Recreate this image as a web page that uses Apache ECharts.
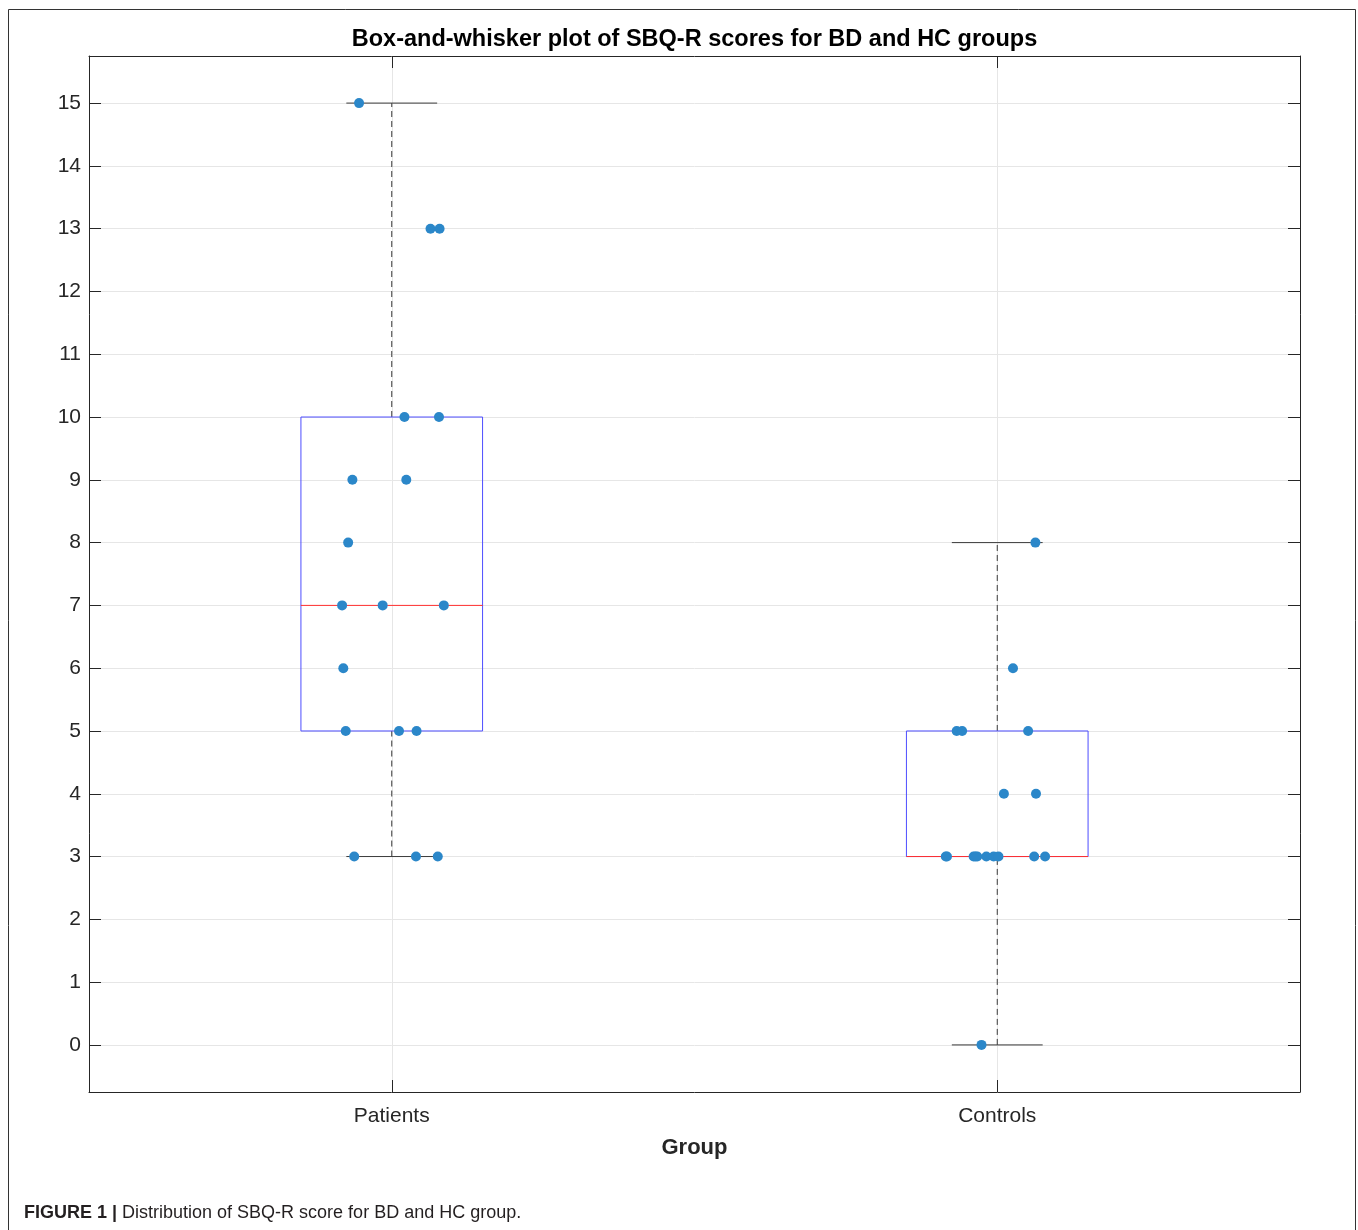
<!DOCTYPE html>
<html>
<head>
<meta charset="utf-8">
<script src="https://cdn.jsdelivr.net/npm/echarts@6/dist/echarts.min.js"></script>
<style>
html,body{margin:0;padding:0;background:#fff;}
#chart{width:1358px;height:1230px;}
</style>
</head>
<body>
<div id="chart"></div>
<script>
// ---- data ----
const categories = ['Patients', 'Controls'];
const categoryPositions = [1, 2];
const yTickValues = [0, 1, 2, 3, 4, 5, 6, 7, 8, 9, 10, 11, 12, 13, 14, 15];
// box stats: [min whisker, Q1, median, Q3, max whisker]
const patientsBox = [3, 5, 7, 10, 15];
const controlsBox = [0, 3, 3, 5, 8];
// individual scores and their horizontal jitter (category units)
const patientsScores = [15, 13, 13, 10, 10, 9, 9, 8, 7, 7, 7, 6, 5, 5, 5, 3, 3, 3];
const patientsJitter = [-0.054, 0.064, 0.079, 0.021, 0.078, -0.065, 0.024, -0.072, -0.082, -0.015, 0.086, -0.080, -0.076, 0.012, 0.041, -0.062, 0.040, 0.076];
const controlsScores = [8, 6, 5, 5, 5, 4, 4, 3, 3, 3, 3, 3, 3, 3, 3, 3, 3, 0];
const controlsJitter = [0.063, 0.026, -0.067, -0.058, 0.051, 0.011, 0.064, -0.085, -0.083, -0.039, -0.036, -0.033, -0.018, -0.006, 0.002, 0.061, 0.079, -0.026];

// ---- build ----
const boxData = [
  [categoryPositions[0]].concat(patientsBox),
  [categoryPositions[1]].concat(controlsBox)
];
const pointData = [];
patientsScores.forEach((v, i) => pointData.push([categoryPositions[0] + patientsJitter[i], v]));
controlsScores.forEach((v, i) => pointData.push([categoryPositions[1] + controlsJitter[i], v]));

const BOX_W = 0.3, CAP_W = 0.15;
const axisColor = '#262626';
const gridColor = '#e6e6e6';
const FONT = '"Liberation Sans", Arial, Helvetica, sans-serif';

const chart = echarts.init(document.getElementById('chart'), null, {renderer: 'canvas'});

function renderBox(params, api) {
  const x = api.value(0);
  const lo = api.value(1), q1 = api.value(2), med = api.value(3), q3 = api.value(4), hi = api.value(5);
  const hb = api.size([BOX_W, 0])[0] / 2;
  const hc = api.size([CAP_W, 0])[0] / 2;
  const p = v => api.coord([x, v]);
  const pLo = p(lo), pQ1 = p(q1), pMed = p(med), pQ3 = p(q3), pHi = p(hi);
  const cx = pLo[0];
  const dashStyle = {stroke: '#3a3a3a', lineWidth: 1, lineDash: [6, 4]};
  const capStyle = {stroke: '#3a3a3a', lineWidth: 1};
  return {
    type: 'group',
    children: [
      {type: 'line', shape: {x1: cx, y1: pQ3[1], x2: cx, y2: pHi[1]}, style: dashStyle},
      {type: 'line', shape: {x1: cx, y1: pLo[1], x2: cx, y2: pQ1[1]}, style: dashStyle},
      {type: 'line', shape: {x1: cx - hc, y1: pHi[1], x2: cx + hc, y2: pHi[1]}, style: capStyle},
      {type: 'line', shape: {x1: cx - hc, y1: pLo[1], x2: cx + hc, y2: pLo[1]}, style: capStyle},
      {type: 'rect', shape: {x: cx - hb, y: pQ3[1], width: 2 * hb, height: pQ1[1] - pQ3[1]},
        style: {fill: 'none', stroke: '#4d4dff', lineWidth: 1}},
      {type: 'line', shape: {x1: cx - hb, y1: pMed[1], x2: cx + hb, y2: pMed[1]},
        style: {stroke: '#ff3030', lineWidth: 1}}
    ]
  };
}

const option = {
  animation: false,
  backgroundColor: '#ffffff',
  grid: {left: 89, right: 58, top: 56, bottom: 138, containLabel: false},
  xAxis: [
    {
      type: 'value', position: 'bottom', min: 0.5, max: 2.5,
      name: 'Group', nameLocation: 'middle', nameGap: 45,
      nameTextStyle: {fontFamily: FONT, fontSize: 22, fontWeight: 'bold', color: axisColor},
      axisLine: {show: true, onZero: false, lineStyle: {color: axisColor, width: 1}},
      axisTick: {show: true, inside: true, length: 12, customValues: categoryPositions, lineStyle: {color: axisColor}},
      axisLabel: {show: true, customValues: categoryPositions, margin: 14, fontFamily: FONT, fontSize: 21, color: axisColor,
        formatter: v => categories[categoryPositions.indexOf(Math.round(v))] || ''},
      splitLine: {show: true, lineStyle: {color: gridColor, width: 1}}
    },
    {
      type: 'value', position: 'top', min: 0.5, max: 2.5,
      axisLine: {show: true, onZero: false, lineStyle: {color: axisColor, width: 1}},
      axisTick: {show: true, inside: true, length: 12, customValues: categoryPositions, lineStyle: {color: axisColor}},
      axisLabel: {show: false},
      splitLine: {show: false}
    }
  ],
  yAxis: [
    {
      type: 'value', position: 'left', min: -0.75, max: 15.75,
      axisLine: {show: true, onZero: false, lineStyle: {color: axisColor, width: 1}},
      axisTick: {show: true, inside: true, length: 12, customValues: yTickValues, lineStyle: {color: axisColor}},
      axisLabel: {show: true, customValues: yTickValues, margin: 8, fontFamily: FONT, fontSize: 21, color: axisColor},
      splitLine: {show: true, lineStyle: {color: gridColor, width: 1}}
    },
    {
      type: 'value', position: 'right', min: -0.75, max: 15.75,
      axisLine: {show: true, onZero: false, lineStyle: {color: axisColor, width: 1}},
      axisTick: {show: true, inside: true, length: 12, customValues: yTickValues, lineStyle: {color: axisColor}},
      axisLabel: {show: false},
      splitLine: {show: false}
    }
  ],
  series: [
    {
      type: 'custom', name: 'box', xAxisIndex: 0, yAxisIndex: 0,
      renderItem: renderBox, data: boxData, z: 2, silent: true,
      encode: {x: 0, y: [1, 2, 3, 4, 5]}
    },
    {
      type: 'scatter', name: 'scores', xAxisIndex: 0, yAxisIndex: 0,
      data: pointData, symbol: 'circle', symbolSize: 10, z: 3,
      itemStyle: {color: '#2b87c9', opacity: 1}
    }
  ],
  graphic: [
    {
      type: 'rect', silent: true, z: -1,
      shape: {x: 8.5, y: 9.5, width: 1347, height: 1250},
      style: {fill: 'none', stroke: '#333333', lineWidth: 1}
    },
    {
      type: 'text', silent: true,
      style: {
        text: 'Box-and-whisker plot of SBQ-R scores for BD and HC groups',
        x: 694.5, y: 40, align: 'center', verticalAlign: 'middle',
        font: 'bold 23.5px ' + FONT, fill: '#000000'
      }
    },
    {
      type: 'text', silent: true,
      style: {
        text: '{b|FIGURE 1 |} Distribution of SBQ-R score for BD and HC group.',
        x: 24, y: 1213, verticalAlign: 'middle',
        fontFamily: FONT, fontSize: 18, fill: '#231f20',
        rich: {b: {fontWeight: 'bold', fontFamily: FONT, fontSize: 18, fill: '#231f20'}}
      }
    }
  ]
};
chart.setOption(option);
</script>
</body>
</html>
